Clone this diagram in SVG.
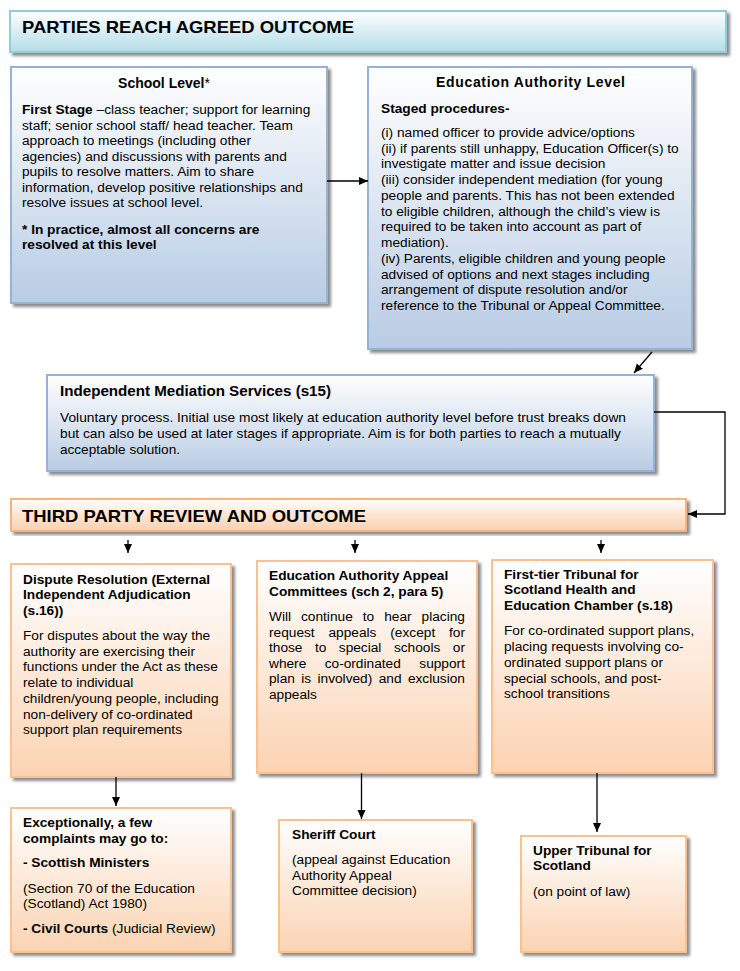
<svg xmlns="http://www.w3.org/2000/svg" width="740" height="971" viewBox="0 0 740 971">
<defs>
<linearGradient id="gBlue" x1="0" y1="0" x2="0" y2="1">
<stop offset="0" stop-color="#ffffff"/>
<stop offset="1" stop-color="#b8cce4"/>
</linearGradient>
<linearGradient id="gTeal" x1="0" y1="0" x2="0" y2="1">
<stop offset="0" stop-color="#ffffff"/>
<stop offset="0.55" stop-color="#d4ecf2"/>
<stop offset="1" stop-color="#b6dde8"/>
</linearGradient>
<linearGradient id="gOrange" x1="0" y1="0" x2="0" y2="1">
<stop offset="0" stop-color="#ffffff"/>
<stop offset="1" stop-color="#fbd3b2"/>
</linearGradient>
<linearGradient id="gOrangeBanner" x1="0" y1="0" x2="0" y2="1">
<stop offset="0" stop-color="#ffffff"/>
<stop offset="0.5" stop-color="#fde5d2"/>
<stop offset="1" stop-color="#fbd0ae"/>
</linearGradient>
<filter id="sh" x="-5%" y="-5%" width="115%" height="120%">
<feDropShadow dx="3" dy="3" stdDeviation="1.5" flood-color="#000000" flood-opacity="0.45"/>
</filter>
<marker id="ah" markerUnits="userSpaceOnUse" markerWidth="10" markerHeight="10" viewBox="0 0 10 10" refX="9" refY="5" orient="auto">
<path d="M0,1 L9,5 L0,9 Z" fill="#000"/>
</marker>
</defs>
<style>
.blue{fill:url(#gBlue);stroke:#95b3d7;stroke-width:2;filter:url(#sh)}
.teal{fill:url(#gTeal);stroke:#92cddc;stroke-width:2;filter:url(#sh)}
.orange{fill:url(#gOrange);stroke:#fac090;stroke-width:2;filter:url(#sh)}
.obanner{fill:url(#gOrangeBanner);stroke:#f9b27c;stroke-width:2;filter:url(#sh)}
text{font-family:"Liberation Sans",Arial,sans-serif;fill:#000}
.banner{font-size:17px;font-weight:bold}
.ttl{font-size:14px;font-weight:bold}
.b{font-size:13.7px}
.bb{font-size:13.7px;font-weight:bold}
.nar{font-family:"Liberation Sans Narrow","Liberation Sans",Arial,sans-serif;font-size:13.5px}
.medt{font-size:15px;font-weight:bold}
.conn{fill:none;stroke:#000;stroke-width:1.3}
</style>

<g id="banner-agreed">
<rect class="teal" x="10" y="11" width="716" height="41"/>
<text class="banner" x="22" y="33" textLength="332" lengthAdjust="spacingAndGlyphs">PARTIES REACH AGREED OUTCOME</text>
</g>

<g id="school-level">
<rect class="blue" x="11" y="67" width="316" height="236"/>
<text class="ttl" x="164" y="88" text-anchor="middle">School Level<tspan font-weight="normal">*</tspan></text>
<text class="b" x="22" y="114"><tspan font-weight="bold">First Stage</tspan> –class teacher; support for learning</text>
<text class="b" x="22" y="129.5">staff; senior school staff/ head teacher. Team</text>
<text class="b" x="22" y="145">approach to meetings (including other</text>
<text class="b" x="22" y="160.5">agencies) and discussions with parents and</text>
<text class="b" x="22" y="176">pupils to resolve matters. Aim to share</text>
<text class="b" x="22" y="191.5">information, develop positive relationships and</text>
<text class="b" x="22" y="207">resolve issues at school level.</text>
<text class="bb" x="22" y="233.5">* In practice, almost all concerns are</text>
<text class="bb" x="22" y="249">resolved at this level</text>
</g>

<g id="education-authority-level">
<rect class="blue" x="368" y="67" width="324" height="282"/>
<text class="ttl" x="436" y="87" textLength="189" lengthAdjust="spacing">Education Authority Level</text>
<text class="bb" x="381" y="112.5">Staged procedures-</text>
<text class="b" x="381" y="136.7">(i) named officer to provide advice/options</text>
<text class="b" x="381" y="152.5">(ii) if parents still unhappy, Education Officer(s) to</text>
<text class="b" x="381" y="168.2">investigate matter and issue decision</text>
<text class="b" x="381" y="184">(iii) consider independent mediation (for young</text>
<text class="b" x="381" y="199.7">people and parents. This has not been extended</text>
<text class="b" x="381" y="215.5">to eligible children, although the child’s view is</text>
<text class="b" x="381" y="231.2">required to be taken into account as part of</text>
<text class="b" x="381" y="247">mediation).</text>
<text class="b" x="381" y="262.7">(iv) Parents, eligible children and young people</text>
<text class="b" x="381" y="278.5">advised of options and next stages including</text>
<text class="b" x="381" y="294.2">arrangement of dispute resolution and/or</text>
<text class="b" x="381" y="310">reference to the Tribunal or Appeal Committee.</text>
</g>

<g id="mediation">
<rect class="blue" x="47" y="375" width="607" height="96"/>
<text class="medt" x="60" y="396" textLength="271" lengthAdjust="spacingAndGlyphs">Independent Mediation Services (s15)</text>
<text class="nar" x="60" y="422" textLength="566" lengthAdjust="spacingAndGlyphs">Voluntary process. Initial use most likely at education authority level before trust breaks down</text>
<text class="nar" x="60" y="438" textLength="561" lengthAdjust="spacingAndGlyphs">but can also be used at later stages if appropriate. Aim is for both parties to reach a mutually</text>
<text class="nar" x="60" y="454" textLength="120" lengthAdjust="spacingAndGlyphs">acceptable solution.</text>
</g>

<g id="banner-third-party">
<rect class="obanner" x="11" y="499" width="675" height="32"/>
<text class="banner" x="22" y="522" textLength="344" lengthAdjust="spacingAndGlyphs">THIRD PARTY REVIEW AND OUTCOME</text>
</g>

<g id="dispute-resolution">
<rect class="orange" x="11" y="564" width="220" height="213"/>
<text class="bb" x="23" y="583.5">Dispute Resolution (External</text>
<text class="bb" x="23" y="599">Independent Adjudication</text>
<text class="bb" x="23" y="615">(s.16))</text>
<text class="b" x="23" y="640">For disputes about the way the</text>
<text class="b" x="23" y="655.7">authority are exercising their</text>
<text class="b" x="23" y="671.4">functions under the Act as these</text>
<text class="b" x="23" y="687">relate to individual</text>
<text class="b" x="23" y="702.8">children/young people, including</text>
<text class="b" x="23" y="718.5">non-delivery of co-ordinated</text>
<text class="b" x="23" y="734.2">support plan requirements</text>
</g>

<g id="appeal-committees">
<rect class="orange" x="257" y="561" width="220" height="212"/>
<text class="bb" x="269" y="580">Education Authority Appeal</text>
<text class="bb" x="269" y="596">Committees (sch 2, para 5)</text>
<text class="b" y="621"><tspan x="269">Will</tspan><tspan x="301">continue</tspan><tspan x="362.8">to</tspan><tspan x="384.2">hear</tspan><tspan x="421.6">placing</tspan></text>
<text class="b" y="637"><tspan x="269">request</tspan><tspan x="328.5">appeals</tspan><tspan x="390.3">(except</tspan><tspan x="449">for</tspan></text>
<text class="b" y="652"><tspan x="269">those</tspan><tspan x="315">to</tspan><tspan x="338.8">special</tspan><tspan x="393.9">schools</tspan><tspan x="452.8">or</tspan></text>
<text class="b" y="668"><tspan x="269">where</tspan><tspan x="324.7">co-ordinated</tspan><tspan x="419.3">support</tspan></text>
<text class="b" y="683"><tspan x="269">plan</tspan><tspan x="301.2">is</tspan><tspan x="317.5">involved)</tspan><tspan x="378.7">and</tspan><tspan x="407.9">exclusion</tspan></text>
<text class="b" x="269" y="699">appeals</text>
</g>

<g id="first-tier-tribunal">
<rect class="orange" x="492" y="560" width="221" height="213"/>
<text class="bb" x="504" y="578.5">First-tier Tribunal for</text>
<text class="bb" x="504" y="594">Scotland Health and</text>
<text class="bb" x="504" y="609.5">Education Chamber (s.18)</text>
<text class="b" x="504" y="635">For co-ordinated support plans,</text>
<text class="b" x="504" y="651">placing requests involving co-</text>
<text class="b" x="504" y="667">ordinated support plans or</text>
<text class="b" x="504" y="682.7">special schools, and post-</text>
<text class="b" x="504" y="698.3">school transitions</text>
</g>

<g id="exceptionally">
<rect class="orange" x="11" y="808" width="220" height="144"/>
<text class="bb" x="23" y="827">Exceptionally, a few</text>
<text class="bb" x="23" y="843">complaints may go to:</text>
<text class="bb" x="23" y="867">- Scottish Ministers</text>
<text class="b" x="23" y="892.5">(Section 70 of the Education</text>
<text class="b" x="23" y="908">(Scotland) Act 1980)</text>
<text class="b" x="23" y="933"><tspan font-weight="bold">- Civil Courts</tspan> (Judicial Review)</text>
</g>

<g id="sheriff-court">
<rect class="orange" x="279" y="820" width="193" height="132"/>
<text class="bb" x="292" y="838.5">Sheriff Court</text>
<text class="b" x="292" y="864">(appeal against Education</text>
<text class="b" x="292" y="879.5">Authority Appeal</text>
<text class="b" x="292" y="895">Committee decision)</text>
</g>

<g id="upper-tribunal">
<rect class="orange" x="521" y="836" width="165" height="116"/>
<text class="bb" x="533" y="854.5">Upper Tribunal for</text>
<text class="bb" x="533" y="870">Scotland</text>
<text class="b" x="533" y="895.5">(on point of law)</text>
</g>

<g id="connectors">
<line class="conn" x1="327" y1="181" x2="368" y2="181" marker-end="url(#ah)"/>
<line class="conn" x1="652" y1="352" x2="634" y2="373" marker-end="url(#ah)"/>
<polyline class="conn" points="654,412 725,412 725,514 688,514" marker-end="url(#ah)"/>
<line class="conn" x1="128" y1="540" x2="128" y2="553" marker-end="url(#ah)"/>
<line class="conn" x1="355" y1="540" x2="355" y2="553" marker-end="url(#ah)"/>
<line class="conn" x1="601" y1="540" x2="601" y2="553" marker-end="url(#ah)"/>
<line class="conn" x1="116" y1="777" x2="116" y2="806" marker-end="url(#ah)"/>
<line class="conn" x1="361.5" y1="773" x2="361.5" y2="819" marker-end="url(#ah)"/>
<line class="conn" x1="597" y1="773" x2="597" y2="832" marker-end="url(#ah)"/>
</g>
</svg>
